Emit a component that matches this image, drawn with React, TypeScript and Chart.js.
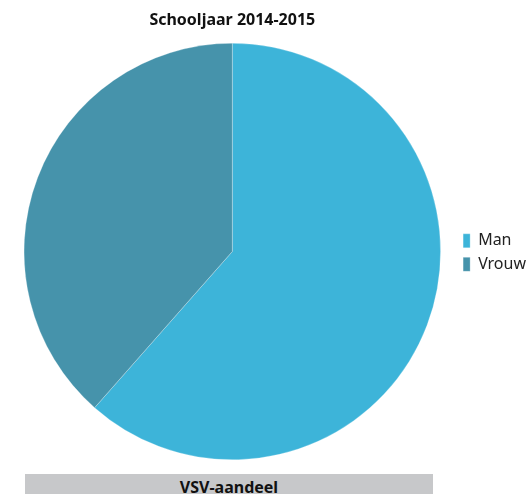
import React, { useEffect, useRef } from "react";
import { Chart, registerables } from "chart.js";

Chart.register(...registerables);

const categories = ["Man", "Vrouw"];
const values = [61.5, 38.5];
const colors = ["#3DB4D9", "#4693AB"];
const titleText = "Schooljaar 2014-2015";
const footerText = "VSV-aandeel";

const FONT = "'Noto Sans', sans-serif";

export default function App() {
  const ref = useRef<HTMLCanvasElement>(null);

  useEffect(() => {
    if (!ref.current) return;
    const chart = new Chart(ref.current, {
      type: "pie",
      data: {
        labels: categories,
        datasets: [
          {
            data: values,
            backgroundColor: colors,
            borderWidth: 0.5,
            borderColor: "rgba(255,255,255,0.5)",
          },
        ],
      },
      options: {
        animation: false,
        responsive: false,
        layout: { padding: { left: 9, right: -4, top: 0, bottom: 34 } },
        plugins: {
          title: {
            display: true,
            text: titleText,
            fullSize: false,
            color: "#111",
            font: { family: FONT, size: 16, weight: "bold" },
            padding: { top: 11, bottom: 12.8 },
          },
          legend: {
            position: "right",
            title: {
              display: true,
              text: "",
              font: { family: FONT, size: 16 },
              padding: { top: 11, bottom: 15 },
            },
            labels: {
              boxWidth: 7,
              boxHeight: 14,
              padding: 7.5,
              color: "#222",
              font: { family: FONT, size: 16 },
            },
          },
          tooltip: { enabled: false },
        },
      },
    });
    return () => chart.destroy();
  }, []);

  return (
    <div style={{ position: "fixed", left: 0, top: 0, width: 532, height: 494, background: "#fff", overflow: "hidden" }}>
      <canvas ref={ref} width={532} height={494} style={{ position: "absolute", left: 0, top: 0 }} />
      <div
        style={{
          position: "absolute",
          left: 25,
          top: 474,
          width: 408,
          height: 20,
          background: "#C7C8CA",
          color: "#111",
          fontFamily: FONT,
          fontWeight: "bold",
          fontSize: 16,
          lineHeight: "26px",
          textAlign: "center",
          overflow: "hidden",
          whiteSpace: "nowrap",
        }}
      >
        {footerText}
      </div>
    </div>
  );
}
